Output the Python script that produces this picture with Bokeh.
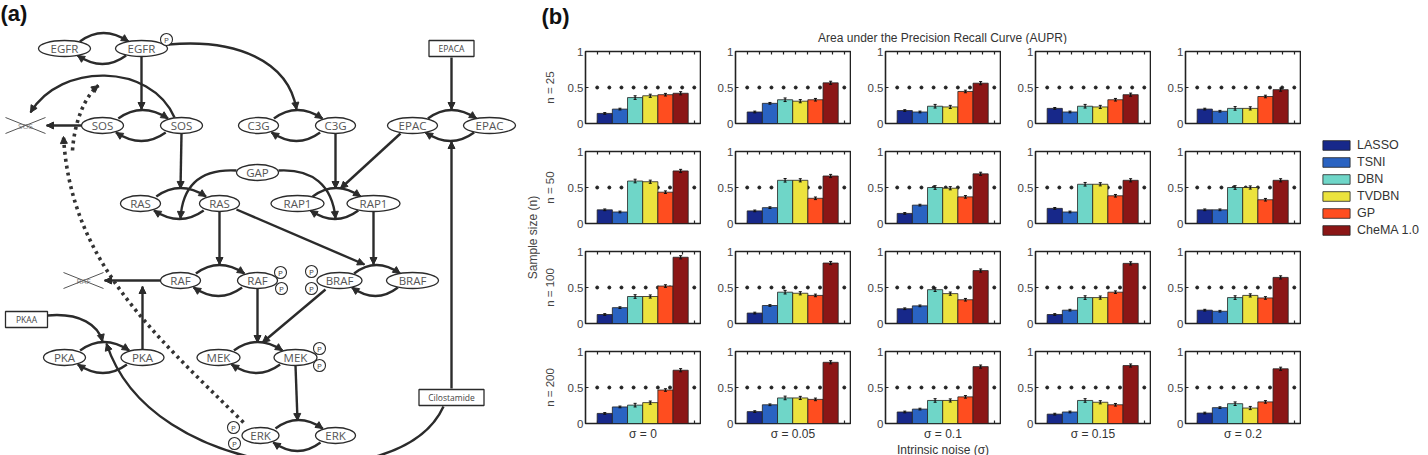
import math
from bokeh.plotting import figure
from bokeh.layouts import row, column
from bokeh.models import (Range1d, FixedTicker, LinearAxis, Legend, LegendItem,
                          Arrow, NormalHead, ColumnDataSource)
from bokeh.core.properties import value
from bokeh.embed import file_html
from bokeh.resources import INLINE

# ---------------- data: panel (b) ----------------
METHODS = ["LASSO", "TSNI", "DBN", "TVDBN", "GP", "CheMA 1.0"]
COLORS = ["#17288a", "#2a63c2", "#6fd6c8", "#ece33d", "#ff4d1f", "#8b1616"]
SIGMA_LABELS = ["σ = 0", "σ = 0.05", "σ = 0.1", "σ = 0.15", "σ = 0.2"]
N_LABELS = ["n = 25", "n = 50", "n = 100", "n = 200"]
Y_TICKS = [0, 0.5, 1]
REF_LEVEL = 0.5

# each list: one row of 5 panels (sigma = 0 ... 0.2), 6 methods per panel
AUPR_N25 = [
    [0.14, 0.20, 0.36, 0.385, 0.40, 0.42],
    [0.16, 0.28, 0.33, 0.31, 0.33, 0.565],
    [0.18, 0.16, 0.24, 0.23, 0.445, 0.56],
    [0.21, 0.16, 0.24, 0.23, 0.33, 0.40],
    [0.20, 0.17, 0.21, 0.21, 0.375, 0.47],
]
AUPR_N50 = [
    [0.19, 0.16, 0.59, 0.58, 0.435, 0.73],
    [0.175, 0.22, 0.60, 0.60, 0.35, 0.66],
    [0.14, 0.255, 0.50, 0.49, 0.37, 0.69],
    [0.21, 0.16, 0.545, 0.545, 0.385, 0.60],
    [0.19, 0.19, 0.50, 0.50, 0.33, 0.60],
]
AUPR_N100 = [
    [0.125, 0.22, 0.375, 0.375, 0.52, 0.92],
    [0.145, 0.25, 0.435, 0.42, 0.39, 0.84],
    [0.205, 0.245, 0.47, 0.415, 0.33, 0.735],
    [0.125, 0.185, 0.36, 0.36, 0.435, 0.835],
    [0.185, 0.17, 0.36, 0.39, 0.355, 0.64],
]
AUPR_N200 = [
    [0.14, 0.23, 0.255, 0.29, 0.465, 0.74],
    [0.165, 0.26, 0.355, 0.355, 0.335, 0.85],
    [0.16, 0.20, 0.32, 0.32, 0.37, 0.79],
    [0.13, 0.16, 0.32, 0.295, 0.26, 0.805],
    [0.145, 0.22, 0.275, 0.215, 0.30, 0.76],
]
ERR = [0.012, 0.012, 0.025, 0.022, 0.018, 0.022]

TITLE_B = "Area under the Precision Recall Curve (AUPR)"
XLABEL_B = "Intrinsic noise (σ)"
YLABEL_B = "Sample size (n)"

# ---------------- data: panel (a) network ----------------
NODE_LABELS = ["EGFR", "EGFR", "SOS", "SOS", "C3G", "C3G", "EPAC", "EPAC", "GAP",
               "RAS", "RAS", "RAP1", "RAP1", "RAF", "RAF", "BRAF", "BRAF",
               "PKA", "PKA", "MEK", "MEK", "ERK", "ERK"]
NODE_X = [64, 141, 102, 181, 258, 335, 412, 489, 257, 140, 219, 297, 373,
          180, 257, 339, 412, 64, 142, 218, 295, 260, 335]
NODE_Y = [48, 48, 125, 125, 125, 125, 125, 125, 172, 203, 203, 203, 203,
          280, 280, 280, 280, 357, 357, 357, 357, 435, 435]
NODE_W = [52, 52, 42, 42, 40, 40, 50, 52, 42, 40, 40, 53, 53,
          40, 40, 45, 52, 42, 43, 43, 43, 37, 40]
CYCLES = [(0, 1), (2, 3), (4, 5), (6, 7), (9, 10), (11, 12), (13, 14),
          (15, 16), (17, 18), (19, 20), (21, 22)]
BOX_LABELS = ["EPACA", "PKAA", "Cilostamide"]
BOX_X = [451, 26, 451]
BOX_Y = [48, 319, 397]
BOX_W = [45, 42, 65]
DEGRADED_LABELS = ["SOS", "RAF"]
DEGRADED_X = [25, 83]
DEGRADED_Y = [125, 280]
PHOS_X = [166, 280, 281, 311, 311, 319, 319, 233, 234]
PHOS_Y = [39, 272, 288, 271, 288, 348, 365, 427, 443]
STRAIGHT = [  # x0, y0, x1, y1
    (141, 56, 141, 109), (81, 125, 46, 125), (181, 133, 180, 188),
    (335, 133, 335, 188), (400, 133, 340, 188), (451, 57, 451, 109),
    (451, 388, 451, 141), (219, 211, 219, 264), (236, 209, 364, 264),
    (373, 211, 373, 264), (160, 280, 104, 280), (142, 349, 142, 286),
    (257, 288, 257, 342), (325, 289, 262, 342), (295, 365, 297, 420),
]
CURVED = [  # x0, y0, cx0, cy0, cx1, cy1, x1, y1
    (168, 44, 235, 38, 288, 60, 296, 109),
    (174, 117, 150, 62, 60, 62, 30, 112),
    (236, 170, 200, 168, 182, 185, 180, 218),
    (278, 170, 312, 168, 332, 185, 335, 218),
    (47, 315, 80, 312, 98, 325, 102, 341),
    (443, 406, 400, 500, 150, 480, 106, 343),
]
DOTTED = [
    (243, 422, 150, 330, 70, 260, 63, 136),
    (72, 150, 74, 120, 85, 95, 98, 85),
]

FONT = "Liberation Sans"
NODE_FONT = "Open Sans"
INK = "#2b2b2b"


def blank(p):
    p.xgrid.grid_line_color = None
    p.ygrid.grid_line_color = None
    p.outline_line_color = None
    p.background_fill_color = "white"
    p.border_fill_color = "white"


# ---------------- panel (a) ----------------
pa = figure(width=540, height=455, x_range=Range1d(0, 540), y_range=Range1d(455, 0),
            output_backend="svg", toolbar_location=None, min_border=0,
            x_axis_location=None, y_axis_location=None)
blank(pa)

tx0, ty0, tx1, ty1, tcx, tcy = [], [], [], [], [], []
heads = dict(xs=[], ys=[], xe=[], ye=[])
for li, ri in CYCLES:
    xl, xr, y = NODE_X[li], NODE_X[ri], NODE_Y[li]
    d = xr - xl
    mid = (xl + xr) / 2
    tx0.append(xl + 0.2 * d); ty0.append(y - 7); tx1.append(xr - 0.17 * d); ty1.append(y - 7)
    tcx.append(mid); tcy.append(y - 24)
    heads["xs"].append(mid); heads["ys"].append(y - 24)
    heads["xe"].append(xr - 0.17 * d); heads["ye"].append(y - 7)
    tx0.append(xr - 0.2 * d); ty0.append(y + 7); tx1.append(xl + 0.17 * d); ty1.append(y + 7)
    tcx.append(mid); tcy.append(y + 24)
    heads["xs"].append(mid); heads["ys"].append(y + 24)
    heads["xe"].append(xl + 0.17 * d); heads["ye"].append(y + 7)
pa.quadratic(x0=tx0, y0=ty0, x1=tx1, y1=ty1, cx=tcx, cy=tcy, line_color=INK, line_width=2.4)

sx0 = [s[0] for s in STRAIGHT]; sy0 = [s[1] for s in STRAIGHT]
sx1 = [s[2] for s in STRAIGHT]; sy1 = [s[3] for s in STRAIGHT]
pa.segment(x0=sx0, y0=sy0, x1=sx1, y1=sy1, line_color=INK, line_width=2.4)
heads["xs"] += sx0; heads["ys"] += sy0; heads["xe"] += sx1; heads["ye"] += sy1

pa.bezier(x0=[c[0] for c in CURVED], y0=[c[1] for c in CURVED],
          cx0=[c[2] for c in CURVED], cy0=[c[3] for c in CURVED],
          cx1=[c[4] for c in CURVED], cy1=[c[5] for c in CURVED],
          x1=[c[6] for c in CURVED], y1=[c[7] for c in CURVED],
          line_color=INK, line_width=2.4)
heads["xs"] += [c[4] for c in CURVED]; heads["ys"] += [c[5] for c in CURVED]
heads["xe"] += [c[6] for c in CURVED]; heads["ye"] += [c[7] for c in CURVED]

pa.bezier(x0=[c[0] for c in DOTTED], y0=[c[1] for c in DOTTED],
          cx0=[c[2] for c in DOTTED], cy0=[c[3] for c in DOTTED],
          cx1=[c[4] for c in DOTTED], cy1=[c[5] for c in DOTTED],
          x1=[c[6] for c in DOTTED], y1=[c[7] for c in DOTTED],
          line_color="#333333", line_width=3.6, line_dash="3 4")
heads["xs"] += [c[4] for c in DOTTED]; heads["ys"] += [c[5] for c in DOTTED]
heads["xe"] += [c[6] for c in DOTTED]; heads["ye"] += [c[7] for c in DOTTED]

head_src = ColumnDataSource(dict(x_start=heads["xs"], y_start=heads["ys"],
                                 x_end=heads["xe"], y_end=heads["ye"]))
pa.add_layout(Arrow(source=head_src, x_start="x_start", y_start="y_start",
                    x_end="x_end", y_end="y_end", line_alpha=0,
                    end=NormalHead(size=7, fill_color=INK, line_color=INK, line_width=1)))

pa.ellipse(x=NODE_X, y=NODE_Y, width=NODE_W, height=16, fill_color="white",
           line_color=INK, line_width=1.3)
pa.text(x=NODE_X, y=NODE_Y, text=NODE_LABELS, text_align="center", text_baseline="middle",
        text_font=value(NODE_FONT), text_font_size="11.5px", text_color="#555555")
pa.rect(x=BOX_X, y=BOX_Y, width=BOX_W, height=16, fill_color="white",
        line_color=INK, line_width=1.3)
pa.text(x=BOX_X, y=BOX_Y, text=BOX_LABELS, text_align="center", text_baseline="middle",
        text_font=value(NODE_FONT), text_font_size="8.5px", text_color="#444444")
pa.text(x=DEGRADED_X, y=DEGRADED_Y, text=DEGRADED_LABELS, text_align="center",
        text_baseline="middle", text_font=value(NODE_FONT), text_font_size="8px",
        text_color="#888888")
pa.segment(x0=[x - 20 for x in DEGRADED_X] * 2,
           y0=[y - 8 for y in DEGRADED_Y] + [y + 8 for y in DEGRADED_Y],
           x1=[x + 20 for x in DEGRADED_X] * 2,
           y1=[y + 8 for y in DEGRADED_Y] + [y - 8 for y in DEGRADED_Y],
           line_color="#555555", line_width=1)
pa.circle(x=PHOS_X, y=PHOS_Y, radius=6, fill_color="white", line_color=INK, line_width=1.1)
pa.text(x=PHOS_X, y=PHOS_Y, text=["P"] * len(PHOS_X), text_align="center",
        text_baseline="middle", text_font=value(NODE_FONT), text_font_size="8px",
        text_color="#444444")
pa.text(x=[0], y=[13], text=["(a)"], text_baseline="middle", text_font=value(FONT),
        text_font_size="22px", text_font_style="bold", text_color="#111111")
pa.text(x=[532], y=[237], text=[YLABEL_B], text_align="center", text_baseline="middle",
        angle=math.pi / 2, text_font=value(FONT), text_font_size="12px", text_color="#444444")

# ---------------- panel (b) header ----------------
ph = figure(width=760, height=44, x_range=Range1d(540, 1300), y_range=Range1d(44, 0),
            output_backend="svg", toolbar_location=None, min_border=0,
            x_axis_location=None, y_axis_location=None)
blank(ph)
ph.text(x=[541], y=[16], text=["(b)"], text_baseline="middle", text_font=value(FONT),
        text_font_size="22px", text_font_style="bold", text_color="#111111")
ph.text(x=[942], y=[37], text=[TITLE_B], text_align="center", text_baseline="middle",
        text_font=value(FONT), text_font_size="12px", text_color="#333333")

# ---------------- panel (b) grid ----------------
X_TICKS = [-0.5 + 0.8 * k for k in range(9)]
XR = (-1.27, 6.31)


def make_panel(vals, r, c):
    p = figure(frame_width=115, frame_height=72, x_range=Range1d(*XR), y_range=Range1d(0, 1),
               output_backend="svg", toolbar_location=None,
               x_axis_location=None, y_axis_location=None,
               min_border_left=44 if c == 0 else 34, min_border_right=1,
               min_border_top=7 if r == 0 else 14, min_border_bottom=32 if r == 3 else 14)
    blank(p)
    p.outline_line_color = "#222222"
    p.outline_line_width = 1.6
    for loc in ("below", "above"):
        ax = LinearAxis(ticker=FixedTicker(ticks=[], minor_ticks=X_TICKS), axis_line_color=None,
                        major_tick_line_color=None, minor_tick_in=3, minor_tick_out=0,
                        minor_tick_line_color="#222222", minor_tick_line_width=1.2,
                        major_label_standoff=0)
        if loc == "below" and r == 3:
            ax.axis_label = SIGMA_LABELS[c] + ("\n" + XLABEL_B if c == 2 else "")
            ax.axis_label_text_font = FONT
            ax.axis_label_text_font_size = "12px"
            ax.axis_label_text_font_style = "normal"
            ax.axis_label_text_color = "#333333"
            ax.axis_label_text_line_height = 1.15
            ax.axis_label_standoff = 3
        p.add_layout(ax, loc)
    yax = LinearAxis(ticker=FixedTicker(ticks=Y_TICKS), axis_line_color=None,
                     major_tick_in=3, major_tick_out=0, major_tick_line_color="#222222",
                     minor_tick_line_color=None,
                     major_label_overrides={0: "0", 0.5: "0.5", 1: "1"},
                     major_label_text_font=FONT, major_label_text_font_size="11.5px",
                     major_label_text_color="#444444", major_label_standoff=2)
    if c == 0:
        yax.axis_label = N_LABELS[r]
        yax.axis_label_text_font = FONT
        yax.axis_label_text_font_size = "11.5px"
        yax.axis_label_text_font_style = "normal"
        yax.axis_label_text_color = "#444444"
        yax.axis_label_standoff = 9
    p.add_layout(yax, "left")

    xs = list(range(len(METHODS)))
    src = ColumnDataSource(dict(
        x=xs, top=vals, color=COLORS,
        lo=[v - e for v, e in zip(vals, ERR)], hi=[v + e for v, e in zip(vals, ERR)],
        cl=[x - 0.1 for x in xs], cr=[x + 0.1 for x in xs]))
    p.scatter(x=X_TICKS, y=[REF_LEVEL] * len(X_TICKS), size=3, color="#222222")
    p.vbar(x="x", top="top", width=1, fill_color="color", line_color="#222222",
           line_width=0.8, source=src, level="overlay")
    p.segment(x0="x", y0="lo", x1="x", y1="hi", line_color="#111111", line_width=1.2,
              source=src, level="overlay")
    p.segment(x0="cl", y0="hi", x1="cr", y1="hi", line_color="#111111", line_width=1,
              source=src, level="overlay")
    p.segment(x0="cl", y0="lo", x1="cr", y1="lo", line_color="#111111", line_width=1,
              source=src, level="overlay")
    return p


rows = []
for r, data in enumerate([AUPR_N25, AUPR_N50, AUPR_N100, AUPR_N200]):
    rows.append(row([make_panel(data[c], r, c) for c in range(5)], spacing=0))
colb = column([ph] + rows, spacing=0)

# ---------------- legend ----------------
pl = figure(width=128, height=455, x_range=Range1d(-10, -9), y_range=Range1d(0, 1),
            output_backend="svg", toolbar_location=None, min_border=0,
            x_axis_location=None, y_axis_location=None)
blank(pl)
leg_src = ColumnDataSource(dict(x=list(range(len(METHODS))), top=[1] * len(METHODS),
                                color=COLORS))
leg_r = pl.vbar(x="x", top="top", width=1, fill_color="color", line_color="#222222",
                line_width=0.8, source=leg_src)
items = [LegendItem(label=m, renderers=[leg_r], index=i) for i, m in enumerate(METHODS)]
leg = Legend(items=items, location=(18, 218), glyph_width=34, glyph_height=12,
             label_height=12, spacing=3, padding=0, margin=0, border_line_color=None,
             background_fill_alpha=0, label_text_font=FONT, label_text_font_size="12.5px",
             label_text_color="#333333", label_standoff=4)
pl.add_layout(leg)

layout = row([pa, colb, pl], spacing=0)
open("out.html", "w").write(file_html(layout, INLINE))
